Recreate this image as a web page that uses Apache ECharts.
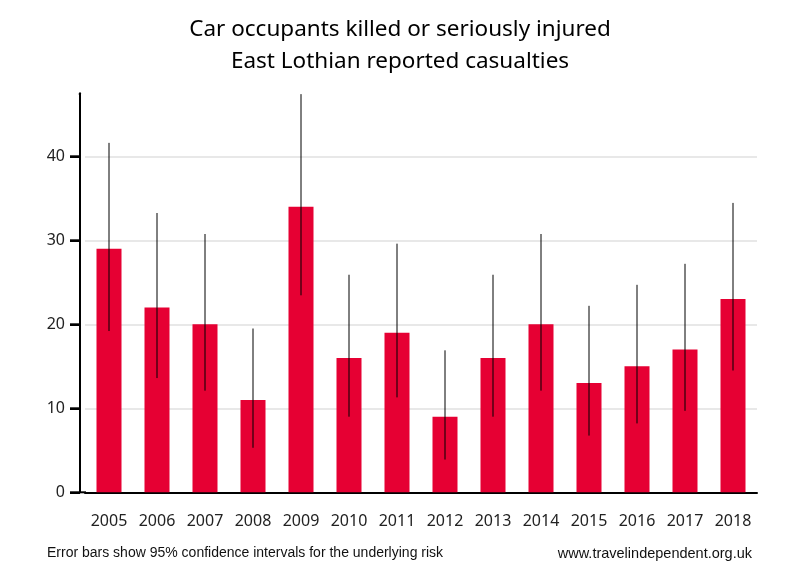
<!DOCTYPE html>
<html>
<head>
<meta charset="utf-8">
<script src="https://cdn.jsdelivr.net/npm/echarts@6/dist/echarts.min.js"></script>
<style>html,body{margin:0;padding:0;background:#fff}#c{width:800px;height:580px}</style>
</head>
<body>
<div id="c"></div>
<script>
const years = ['2005','2006','2007','2008','2009','2010','2011','2012','2013','2014','2015','2016','2017','2018'];
const casualties = [29, 22, 20, 11, 34, 16, 19, 9, 16, 20, 13, 15, 17, 23];
const ciLow  = [19.2, 13.6, 12.1, 5.3, 23.45, 9.0, 11.3, 3.9, 9.0, 12.1, 6.75, 8.2, 9.7, 14.5];
const ciHigh = [41.6, 33.25, 30.75, 19.5, 47.4, 25.9, 29.6, 16.9, 25.9, 30.75, 22.2, 24.7, 27.2, 34.45];
const yTicks = [0, 10, 20, 30, 40];

const chart = echarts.init(document.getElementById('c'), null, {renderer: 'canvas'});
const font = 'Noto Sans';
chart.setOption({
  animation: false,
  backgroundColor: '#ffffff',
  title: [{
    text: 'Car occupants killed or seriously injured\nEast Lothian reported casualties',
    left: 'center', top: 9,
    textStyle: {fontFamily: font, fontSize: 22.5, fontWeight: 'normal', color: '#000', lineHeight: 32}
  }],
  graphic: [
    {type: 'text', left: 47, top: 546, style: {text: 'Error bars show 95% confidence intervals for the underlying risk', fontFamily: 'Liberation Sans', fontSize: 14, fill: '#111'}},
    {type: 'text', right: 48, top: 546, style: {text: 'www.travelindependent.org.uk', fontFamily: 'Liberation Sans', fontSize: 14.5, fill: '#111'}},
    {type: 'line', shape: {x1: 80, y1: 492.3, x2: 86, y2: 492.3}, style: {stroke: '#000', lineWidth: 2}, z: 100},
    {type: 'rect', shape: {x: 64, y: 88, width: 14.8, height: 10}, style: {fill: '#fff'}, z: 100}
  ],
  grid: {left: 85, right: 43, top: 93.3, bottom: 87.7, containLabel: false},
  xAxis: {
    type: 'category', data: years,
    axisLine: {show: true, lineStyle: {color: '#000', width: 2}},
    axisTick: {show: false},
    axisLabel: {fontFamily: font, fontSize: 16, color: '#222', margin: 21}
  },
  yAxis: {
    type: 'value', min: 0, max: 47.5, interval: 10, offset: 5,
    axisLine: {show: true, lineStyle: {color: '#000', width: 2}},
    axisTick: {show: true, length: 10, lineStyle: {color: '#000', width: 2}},
    axisLabel: {fontFamily: font, fontSize: 16, color: '#222', margin: 15,
      formatter: v => yTicks.includes(v) ? String(v) : ''},
    splitLine: {show: true, showMaxLine: false, lineStyle: {color: '#e8e8e8', width: 2}}
  },
  series: [
    {type: 'bar', data: casualties, barWidth: 25, itemStyle: {color: '#e60033'}},
    {type: 'custom', data: years.map((y, i) => [i, ciLow[i], ciHigh[i]]),
     renderItem: (params, api) => {
       const lo = api.coord([api.value(0), api.value(1)]);
       const hi = api.coord([api.value(0), api.value(2)]);
       return {type: 'line', shape: {x1: lo[0], y1: lo[1], x2: hi[0], y2: hi[1]},
         style: {stroke: '#000', lineWidth: 1}};
     }, z: 10},
    {type: 'custom', data: yTicks.map(v => [0, v]), silent: true, clip: false,
     renderItem: (params, api) => {
       const p = api.coord([0, api.value(1)]);
       const x0 = params.coordSys.x - 5;
       return {type: 'rect', shape: {x: x0 - 10, y: p[1] - 1, width: 10, height: 2},
         style: {fill: '#000'}};
     }, z: 20}
  ]
});
</script>
</body>
</html>
